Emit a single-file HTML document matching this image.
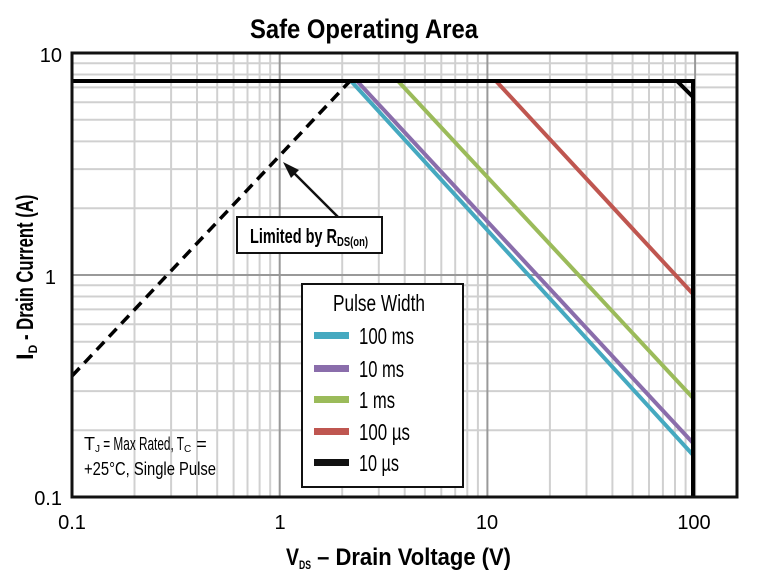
<!DOCTYPE html>
<html><head><meta charset="utf-8"><style>
html,body{margin:0;padding:0;background:#fff;}
svg{display:block;font-family:"Liberation Sans Narrow","Liberation Sans",sans-serif;}
</style></head><body>
<svg width="759" height="586" viewBox="0 0 759 586" xmlns="http://www.w3.org/2000/svg">
<g stroke="#d0d0d0" stroke-width="2">
<line x1="134.5" y1="53" x2="134.5" y2="497"/><line x1="171.1" y1="53" x2="171.1" y2="497"/><line x1="197" y1="53" x2="197" y2="497"/><line x1="217.2" y1="53" x2="217.2" y2="497"/><line x1="233.6" y1="53" x2="233.6" y2="497"/><line x1="247.5" y1="53" x2="247.5" y2="497"/><line x1="259.6" y1="53" x2="259.6" y2="497"/><line x1="270.2" y1="53" x2="270.2" y2="497"/>
<line x1="342.2" y1="53" x2="342.2" y2="497"/><line x1="378.8" y1="53" x2="378.8" y2="497"/><line x1="404.7" y1="53" x2="404.7" y2="497"/><line x1="424.9" y1="53" x2="424.9" y2="497"/><line x1="441.3" y1="53" x2="441.3" y2="497"/><line x1="455.2" y1="53" x2="455.2" y2="497"/><line x1="467.3" y1="53" x2="467.3" y2="497"/><line x1="477.9" y1="53" x2="477.9" y2="497"/>
<line x1="549.9" y1="53" x2="549.9" y2="497"/><line x1="586.5" y1="53" x2="586.5" y2="497"/><line x1="612.4" y1="53" x2="612.4" y2="497"/><line x1="632.6" y1="53" x2="632.6" y2="497"/><line x1="649" y1="53" x2="649" y2="497"/><line x1="662.9" y1="53" x2="662.9" y2="497"/><line x1="675" y1="53" x2="675" y2="497"/><line x1="685.6" y1="53" x2="685.6" y2="497"/>
<line x1="72" y1="208.2" x2="737" y2="208.2"/><line x1="72" y1="169.1" x2="737" y2="169.1"/><line x1="72" y1="141.4" x2="737" y2="141.4"/><line x1="72" y1="119.8" x2="737" y2="119.8"/><line x1="72" y1="102.3" x2="737" y2="102.3"/><line x1="72" y1="87.4" x2="737" y2="87.4"/><line x1="72" y1="74.5" x2="737" y2="74.5"/><line x1="72" y1="63.2" x2="737" y2="63.2"/>
<line x1="72" y1="430.2" x2="737" y2="430.2"/><line x1="72" y1="391.1" x2="737" y2="391.1"/><line x1="72" y1="363.4" x2="737" y2="363.4"/><line x1="72" y1="341.8" x2="737" y2="341.8"/><line x1="72" y1="324.3" x2="737" y2="324.3"/><line x1="72" y1="309.4" x2="737" y2="309.4"/><line x1="72" y1="296.5" x2="737" y2="296.5"/><line x1="72" y1="285.2" x2="737" y2="285.2"/>
</g>
<g stroke="#999" stroke-width="2">
<line x1="279.7" y1="53" x2="279.7" y2="497"/><line x1="487.4" y1="53" x2="487.4" y2="497"/><line x1="695.1" y1="53" x2="695.1" y2="497"/>
<line x1="72" y1="275" x2="737" y2="275"/>
</g>
<text x="250" y="38" font-size="27" font-weight="bold" textLength="228" lengthAdjust="spacingAndGlyphs">Safe Operating Area</text>
<line x1="351" y1="81" x2="693" y2="455" stroke="#45a9c0" stroke-width="4"/>
<line x1="357" y1="81" x2="693" y2="443" stroke="#8a6dab" stroke-width="4"/>
<line x1="398" y1="81" x2="693" y2="398" stroke="#9bbb5a" stroke-width="4"/>
<line x1="496" y1="81" x2="693" y2="294" stroke="#bf5650" stroke-width="4"/>
<line x1="72" y1="376" x2="350" y2="81" stroke="#000" stroke-width="3.5" stroke-dasharray="11,7"/>
<polyline points="72,81 677,81 693,97" fill="none" stroke="#000" stroke-width="4"/>
<polyline points="677,81 693,81 693,497" fill="none" stroke="#000" stroke-width="4"/>
<rect x="72" y="53" width="665" height="444" fill="none" stroke="#111" stroke-width="3"/>
<line x1="338" y1="217" x2="291" y2="170" stroke="#111" stroke-width="2.5"/>
<polygon points="283,162 299,170 291,178" fill="#111"/>
<rect x="237" y="217" width="145" height="36" fill="#fff" stroke="#111" stroke-width="2"/>
<text x="250" y="243" font-size="20" font-weight="bold"><tspan textLength="87" lengthAdjust="spacingAndGlyphs">Limited by R</tspan><tspan font-size="13" dy="3" textLength="31" lengthAdjust="spacingAndGlyphs">DS(on)</tspan></text>
<rect x="302" y="284" width="161" height="203" fill="#fff" stroke="#111" stroke-width="2"/>
<text x="333" y="311" font-size="23" textLength="92" lengthAdjust="spacingAndGlyphs">Pulse Width</text>
<g font-size="23">
<rect x="314" y="332" width="35" height="7" fill="#45a9c0"/><text x="359" y="344" textLength="55" lengthAdjust="spacingAndGlyphs">100 ms</text>
<rect x="314" y="365" width="35" height="7" fill="#8a6dab"/><text x="359" y="377" textLength="45" lengthAdjust="spacingAndGlyphs">10 ms</text>
<rect x="314" y="396" width="35" height="7" fill="#9bbb5a"/><text x="359" y="408" textLength="36" lengthAdjust="spacingAndGlyphs">1 ms</text>
<rect x="314" y="428" width="35" height="7" fill="#bf5650"/><text x="359" y="440" textLength="51" lengthAdjust="spacingAndGlyphs">100 µs</text>
<rect x="314" y="459" width="35" height="7" fill="#111"/><text x="359" y="471" textLength="40" lengthAdjust="spacingAndGlyphs">10 µs</text>
</g>
<text x="84" y="450" font-size="18"><tspan>T</tspan><tspan font-size="10" dy="2">J</tspan><tspan dy="-2" textLength="84" lengthAdjust="spacingAndGlyphs"> = Max Rated, T</tspan><tspan font-size="10" dy="2">C</tspan><tspan dy="-2"> =</tspan></text>
<text x="84" y="475" font-size="18" textLength="132" lengthAdjust="spacingAndGlyphs">+25°C, Single Pulse</text>
<g font-size="20" text-anchor="end">
<text x="62" y="62">10</text><text x="56" y="284">1</text><text x="62" y="505">0.1</text>
</g>
<g font-size="20" text-anchor="middle">
<text x="72" y="529">0.1</text><text x="280" y="529">1</text><text x="487" y="529">10</text><text x="694" y="529">100</text>
</g>
<text x="286" y="565" font-size="24" font-weight="bold"><tspan textLength="13" lengthAdjust="spacingAndGlyphs">V</tspan><tspan font-size="12" dy="4" textLength="12" lengthAdjust="spacingAndGlyphs">DS</tspan><tspan dy="-4" textLength="200" lengthAdjust="spacingAndGlyphs">  – Drain Voltage (V)</tspan></text>
<text transform="translate(33,360) rotate(-90)" font-size="24" font-weight="bold"><tspan>I</tspan><tspan font-size="12" dy="4">D</tspan><tspan dy="-4" textLength="150" lengthAdjust="spacingAndGlyphs"> - Drain Current (A)</tspan></text>
</svg>
</body></html>
